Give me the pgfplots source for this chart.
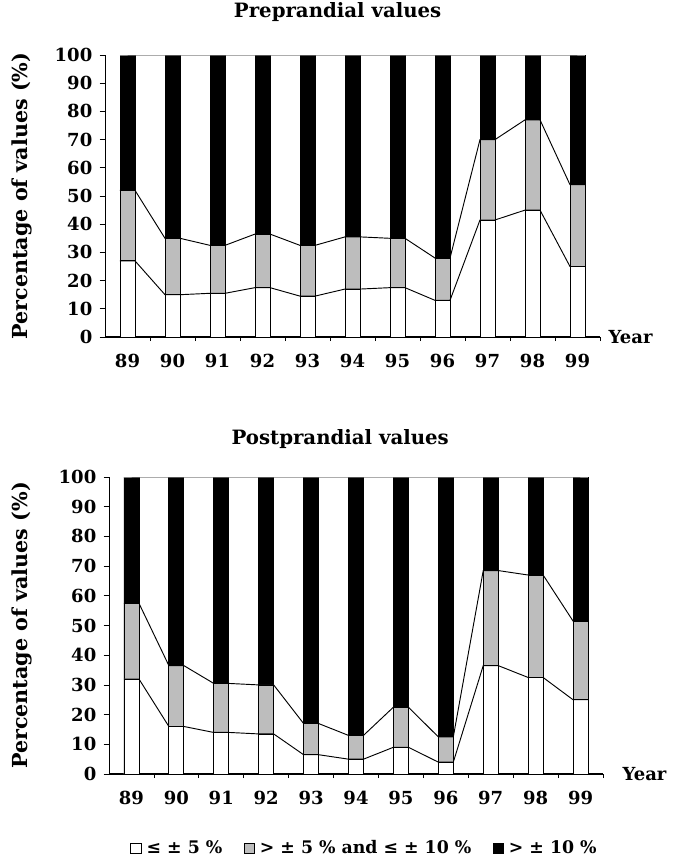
\documentclass[border=0pt]{standalone}
\usepackage{pgfplots}
\pgfplotsset{compat=1.18}
\usepackage{pgfplotstable}
\usepackage{fontspec}
\setmainfont{DejaVu Serif}

\definecolor{stipple}{gray}{0.74}

% tops of the white part (low) and of the grey part (mid), black runs to 100;
% each year is listed at the left and the right edge of its bar
\pgfplotstableread{
xe      low   mid   top
0.3333  27    52    100
0.6667  27    52    100
1.3333  15    35    100
1.6667  15    35    100
2.3333  15.5  32.5  100
2.6667  15.5  32.5  100
3.3333  17.5  36.5  100
3.6667  17.5  36.5  100
4.3333  14.5  32.5  100
4.6667  14.5  32.5  100
5.3333  17    35.5  100
5.6667  17    35.5  100
6.3333  17.5  35    100
6.6667  17.5  35    100
7.3333  13    28    100
7.6667  13    28    100
8.3333  41.5  70    100
8.6667  41.5  70    100
9.3333  45    77    100
9.6667  45    77    100
10.3333 25    54    100
10.6667 25    54    100
}\predata

\pgfplotstableread{
xe      low   mid   top
0.3333  32    57.5  100
0.6667  32    57.5  100
1.3333  16    36.5  100
1.6667  16    36.5  100
2.3333  14    30.5  100
2.6667  14    30.5  100
3.3333  13.5  30    100
3.6667  13.5  30    100
4.3333  6.5   17    100
4.6667  6.5   17    100
5.3333  5     13    100
5.6667  5     13    100
6.3333  9     22.5  100
6.6667  9     22.5  100
7.3333  4     12.5  100
7.6667  4     12.5  100
8.3333  36.5  68.5  100
8.6667  36.5  68.5  100
9.3333  32.5  67    100
9.6667  32.5  67    100
10.3333 25    51.5  100
10.6667 25    51.5  100
}\postdata

\pgfplotsset{
  segbar/.style={ybar, bar width=0.3333, bar shift=0pt, draw=black, line width=0.6pt,
    each nth point=2,
    legend image code/.code={\draw[##1, line width=0.4pt] (0pt,-3.8pt) rectangle (7.6pt,3.8pt);}},
  serline/.style={black, line width=0.7pt, mark=none, forget plot},
  yearaxis/.style={
    scale only axis, clip=false,
    xmin=0, xmax=11, ymin=0, ymax=100,
    axis x line*=bottom, axis y line*=left,
    x axis line style={line width=1.1pt},
    y axis line style={line width=0.6pt},
    xtick={0.5,1.5,...,10.5},
    xticklabels={89,90,91,92,93,94,95,96,97,98,99},
    major x tick style={draw=none},
    minor xtick={1,2,...,11},
    minor tick length=3pt,
    ytick={0,10,...,100},
    tick align=outside,
    major tick length=4pt,
    tick style={black, line width=0.5pt},
    /pgf/number format/assume math mode=true,
    tick label style={font=\fontsize{13.5}{15}\selectfont\bfseries},
    xticklabel style={yshift=-5pt},
    yticklabel style={xshift=-2pt},
    ylabel={Percentage of values (\%)},
    ylabel style={font=\fontsize{15.5}{17}\selectfont\bfseries, anchor=center},
    xlabel={Year},
    xlabel style={font=\fontsize{13.5}{15}\selectfont\bfseries, anchor=west},
    title style={font=\fontsize{14.8}{17}\selectfont\bfseries, anchor=center},
  }
}

\begin{document}
\begin{tikzpicture}
\useasboundingbox (0,0) rectangle (506.25pt,-648pt);

\begin{axis}[yearaxis, at={(78.75pt,-252.75pt)}, anchor=south west,
  width=371.25pt, height=211.5pt,
  title={Preprandial values}, title style={at={(0.47,1.124)}},
  ylabel style={at={(-0.168,0.5)}},
  xlabel style={at={(1.008,0)}}]
\addplot[segbar, fill=black] table[x expr=\thisrow{xe}+0.1667, y=top] {\predata};
\addplot[segbar, fill=stipple] table[x expr=\thisrow{xe}+0.1667, y=mid] {\predata};
\addplot[segbar, fill=white] table[x expr=\thisrow{xe}+0.1667, y=low] {\predata};
\addplot[serline] table[x=xe, y=low] {\predata};
\addplot[serline] table[x=xe, y=mid] {\predata};
\addplot[serline, gray] table[x=xe, y=top] {\predata};
\end{axis}

\begin{axis}[yearaxis, at={(81.75pt,-580.5pt)}, anchor=south west,
  width=370.5pt, height=222.75pt,
  title={Postprandial values}, title style={at={(0.468,1.101)}},
  ylabel style={at={(-0.176,0.5)}},
  xlabel style={at={(1.03,0)}},
  reverse legend,
  legend columns=3,
  legend style={draw=none, fill=none, at={(0.518,-0.249)}, anchor=center,
    font=\fontsize{13}{15}\selectfont\bfseries,
    /tikz/every even column/.append style={column sep=14pt}}]
\addplot[segbar, fill=black] table[x expr=\thisrow{xe}+0.1667, y=top] {\postdata};
\addlegendentry{\,> ± 10 \%}
\addplot[segbar, fill=stipple] table[x expr=\thisrow{xe}+0.1667, y=mid] {\postdata};
\addlegendentry{\,> ± 5 \% and ≤ ± 10 \%}
\addplot[segbar, fill=white] table[x expr=\thisrow{xe}+0.1667, y=low] {\postdata};
\addlegendentry{\,≤ ± 5 \%}
\addplot[serline] table[x=xe, y=low] {\postdata};
\addplot[serline] table[x=xe, y=mid] {\postdata};
\addplot[serline, gray] table[x=xe, y=top] {\postdata};
\end{axis}
\end{tikzpicture}
\end{document}
